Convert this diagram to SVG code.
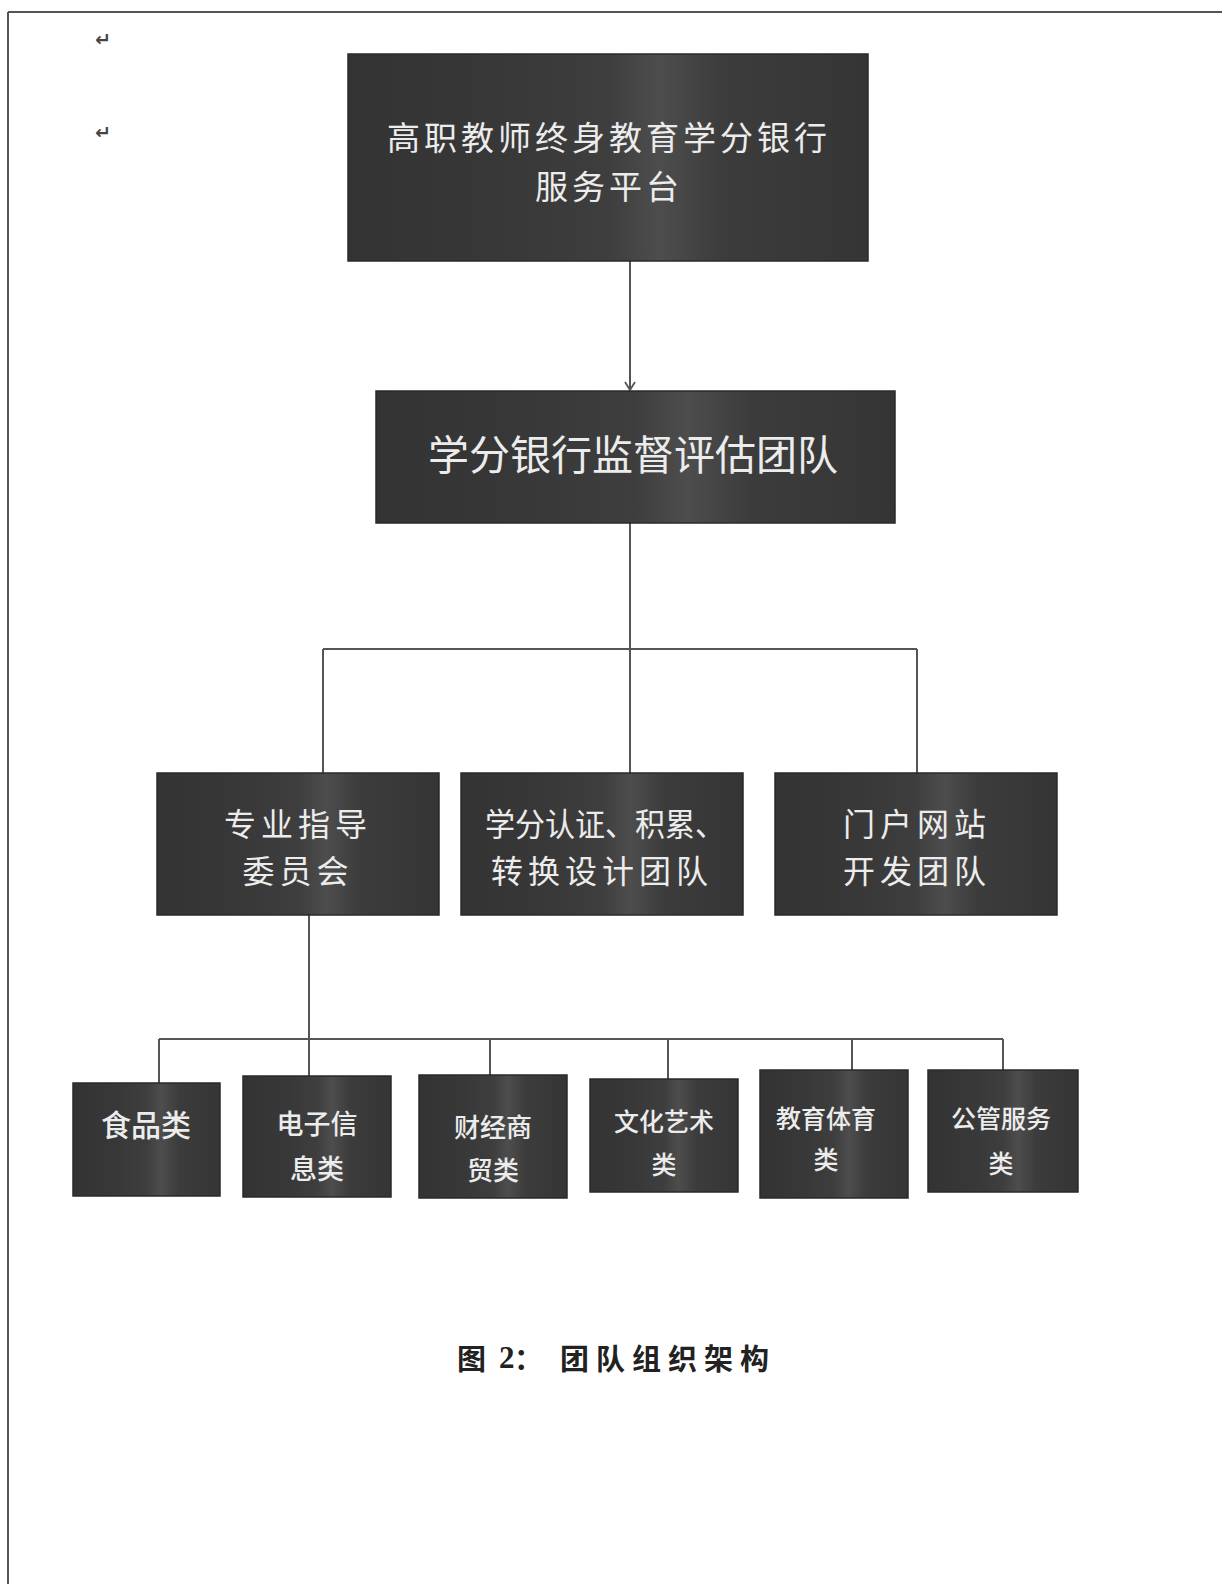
<svg xmlns="http://www.w3.org/2000/svg" width="1226" height="1584" viewBox="0 0 1226 1584">
  <defs>
    <linearGradient id="boxfill" x1="0" y1="0" x2="1" y2="0">
      <stop offset="0" stop-color="#333333"/>
      <stop offset="0.3" stop-color="#383838"/>
      <stop offset="0.5" stop-color="#3e3e3e"/>
      <stop offset="0.6" stop-color="#4d4d4d"/>
      <stop offset="0.72" stop-color="#3c3c3c"/>
      <stop offset="1" stop-color="#353535"/>
    </linearGradient>
    <marker id="arrow" viewBox="0 0 12 12" refX="11" refY="6" markerWidth="12" markerHeight="12" markerUnits="userSpaceOnUse" orient="auto">
      <path d="M3 1 L11 6 L3 11" fill="none" stroke="#555555" stroke-width="1.8"/>
    </marker>
  </defs>
  <style>
    .box { fill: url(#boxfill); stroke: #2a2a2a; stroke-width: 1.5; }
    .t { fill: #ececec; font-family: "Noto Sans CJK SC", "Noto Sans", sans-serif; text-anchor: middle; dominant-baseline: central; }
    .big { font-size: 33px; font-weight: 400; letter-spacing: 4px; }
    .mid { font-size: 32px; font-weight: 400; letter-spacing: 5px; }
    .sm { font-weight: 500; }
    .conn { fill: none; stroke: #555555; stroke-width: 2; }
    .frame { fill: none; stroke: #555555; stroke-width: 2; }
    .mark { fill: #444444; font-family: "DejaVu Sans", sans-serif; font-size: 19px; font-weight: 700; }
    .cap { fill: #222222; font-family: "Noto Sans CJK SC", "Noto Sans", sans-serif; font-size: 29px; font-weight: 700; dominant-baseline: central; }
  </style>
  <rect x="0" y="0" width="1226" height="1584" fill="#ffffff"/>
  <g id="frame">
    <line class="frame" x1="8" y1="12" x2="8" y2="1584"/>
    <line class="frame" x1="8" y1="12" x2="1222" y2="12"/>
  </g>
  <g id="marks">
    <text class="mark" x="95" y="46">↵</text>
    <text class="mark" x="95" y="139">↵</text>
  </g>

  <g id="connectors">
    <line class="conn" x1="630" y1="261" x2="630" y2="390" marker-end="url(#arrow)"/>
    <path class="conn" d="M630 523 V773 M323 649 H917 M323 649 V773 M917 649 V773"/>
    <path class="conn" d="M309 915 V1039 M159 1039 H1003 M159 1039 V1083 M309 1039 V1076 M490 1039 V1075 M668 1039 V1079 M852 1039 V1070 M1003 1039 V1070"/>
  </g>

  <g id="n-platform">
    <rect class="box" x="348" y="54" width="520" height="207"/>
    <text class="t big" x="609" y="136">高职教师终身教育学分银行<tspan x="609" dy="49">服务平台</tspan></text>
  </g>
  <g id="n-supervise">
    <rect class="box" x="376" y="391" width="519" height="132"/>
    <text class="t" style="font-size:41px" x="633" y="452">学分银行监督评估团队</text>
  </g>

  <g id="n-committee">
    <rect class="box" x="157" y="773" width="282" height="142"/>
    <text class="t mid" x="298" y="822">专业指导<tspan x="298" dy="47">委员会</tspan></text>
  </g>
  <g id="n-credit">
    <rect class="box" x="461" y="773" width="282" height="142"/>
    <text class="t mid" x="602" y="822"><tspan x="605" textLength="240" lengthAdjust="spacingAndGlyphs" style="letter-spacing:0">学分认证、积累、</tspan><tspan x="602" dy="47">转换设计团队</tspan></text>
  </g>
  <g id="n-portal">
    <rect class="box" x="775" y="773" width="282" height="142"/>
    <text class="t mid" x="917" y="822">门户网站<tspan x="917" dy="47">开发团队</tspan></text>
  </g>

  <g id="n-food">
    <rect class="box" x="73" y="1083" width="147" height="113"/>
    <text class="t sm" style="font-size:30px" x="146" y="1123">食品类</text>
  </g>
  <g id="n-electronic">
    <rect class="box" x="243" y="1076" width="148" height="121"/>
    <text class="t sm" style="font-size:27px" x="317" y="1122">电子信<tspan x="317" dy="45">息类</tspan></text>
  </g>
  <g id="n-finance">
    <rect class="box" x="419" y="1075" width="148" height="123"/>
    <text class="t sm" style="font-size:26px" x="493" y="1125">财经商<tspan x="493" dy="43">贸类</tspan></text>
  </g>
  <g id="n-culture">
    <rect class="box" x="590" y="1079" width="148" height="113"/>
    <text class="t sm" style="font-size:25px" x="664" y="1120">文化艺术<tspan x="664" dy="43">类</tspan></text>
  </g>
  <g id="n-education">
    <rect class="box" x="760" y="1070" width="148" height="128"/>
    <text class="t sm" style="font-size:25px" x="826" y="1117">教育体育<tspan x="826" dy="41">类</tspan></text>
  </g>
  <g id="n-public">
    <rect class="box" x="928" y="1070" width="150" height="122"/>
    <text class="t sm" style="font-size:25px" x="1001" y="1117">公管服务<tspan x="1001" dy="45">类</tspan></text>
  </g>

  <g id="caption">
    <text class="cap" x="457" y="1357">图</text>
    <text class="cap" x="499" y="1357" style="font-family:'Liberation Serif', serif; font-size:31px">2</text>
    <text class="cap" x="514" y="1357">：</text>
    <text class="cap" x="560" y="1357" letter-spacing="7">团队组织架构</text>
  </g>
</svg>
